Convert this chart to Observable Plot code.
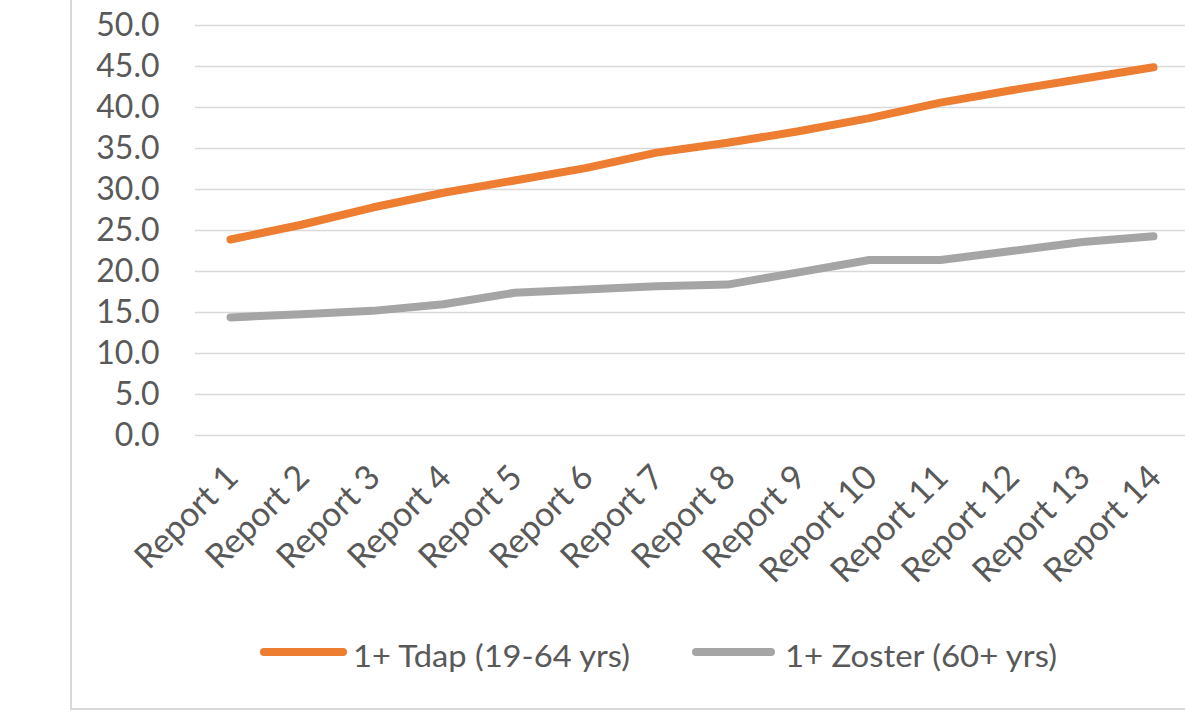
<!DOCTYPE html>
<html><head><meta charset="utf-8">
<script src="https://cdn.jsdelivr.net/npm/d3@7"></script>
<script src="https://cdn.jsdelivr.net/npm/@observablehq/plot@0.6"></script>
<style>
html,body{margin:0;padding:0;background:#fff;overflow:hidden}
#wrap{position:relative;width:1185px;height:726px;font-family:Lato,sans-serif;color:#595959}
#frame{position:absolute;left:70px;top:0;width:1200px;height:710px;border-left:2px solid #d9d9d9;border-bottom:2px solid #d9d9d9;box-sizing:border-box}
#chart{position:absolute;left:0;top:0}
.sw{position:absolute;height:8px;border-radius:4px}
.lt{position:absolute;font-size:31px;line-height:1;white-space:nowrap;transform-origin:0 0;color:#595959}
</style></head>
<body><div id="wrap"><div id="frame"></div><div id="chart"></div>
<div class="sw" style="left:260px;top:648px;width:87px;background:#ED7D31"></div>
<div class="lt" id="l1" style="left:353px;top:639.5px"></div>
<div class="sw" style="left:692px;top:648px;width:83px;background:#A5A5A5"></div>
<div class="lt" id="l2" style="left:785px;top:639.5px"></div>
</div>
<script>
const reports = ["Report 1","Report 2","Report 3","Report 4","Report 5","Report 6","Report 7","Report 8","Report 9","Report 10","Report 11","Report 12","Report 13","Report 14"];
const series = ["1+ Tdap (19-64 yrs)","1+ Zoster (60+ yrs)"];
const colors = ["#ED7D31","#A5A5A5"];
const tdap = [23.9,25.7,27.8,29.6,31.1,32.6,34.5,35.7,37.1,38.7,40.6,42.1,43.5,44.9];
const zoster = [14.4,14.8,15.2,16.0,17.4,17.8,18.2,18.4,19.9,21.4,21.4,22.5,23.6,24.3];
const yTicks = [0,5,10,15,20,25,30,35,40,45,50];

const rows = [];
reports.forEach((r,i)=>{
  rows.push({series:series[0],report:r,value:tdap[i]});
  rows.push({series:series[1],report:r,value:zoster[i]});
});

const chart = Plot.plot({
  width:1185, height:600,
  marginTop:25, marginBottom:165, marginLeft:195, marginRight:0,
  x:{type:"point", domain:reports, range:[228,1155], padding:0},
  y:{domain:[0,50]},
  color:{domain:series, range:colors},
  style:{fontFamily:"Lato, sans-serif", fontSize:"32px", color:"#595959", background:"transparent", overflow:"visible"},
  marks:[
    Plot.ruleY(yTicks,{stroke:"#d9d9d9",strokeWidth:1.5}),
    Plot.axisY({ticks:yTicks, tickFormat:d=>d.toFixed(1), tickSize:0, tickPadding:36, fontSize:32, label:null}),
    Plot.axisX({tickSize:0, tickRotate:-45, tickPadding:36, dx:2, fontSize:34, label:null}),
    Plot.line(rows,{x:"report",y:"value",z:"series",stroke:"series",strokeWidth:8,strokeLinecap:"round",strokeLinejoin:"round"})
  ]
});
document.getElementById("chart").appendChild(chart);

const targets = [277,272];
["l1","l2"].forEach((id,i)=>{
  const el = document.getElementById(id);
  el.textContent = series[i];
  const w = el.getBoundingClientRect().width;
  el.style.transform = `scaleX(${targets[i]/w})`;
});
</script>
</body></html>
